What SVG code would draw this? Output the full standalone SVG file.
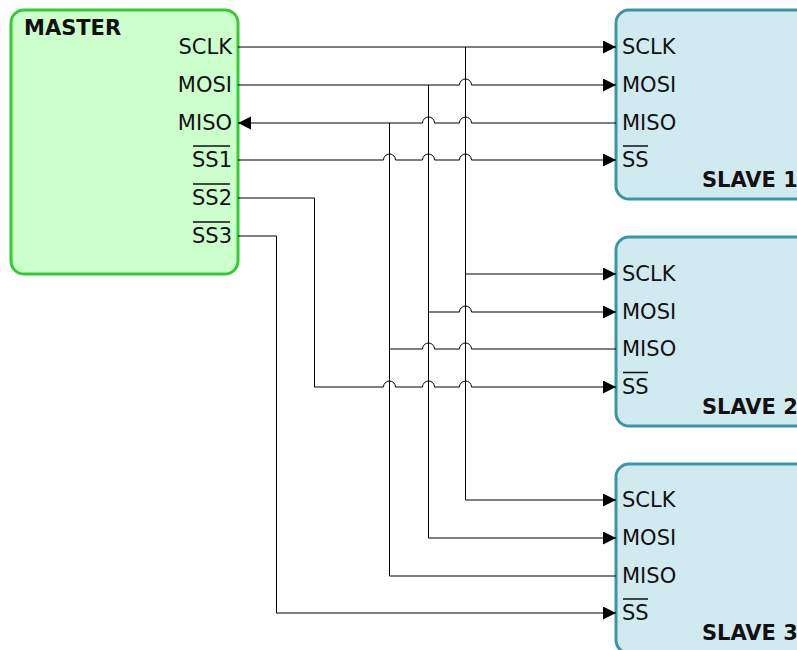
<svg xmlns="http://www.w3.org/2000/svg" width="797" height="650" viewBox="0 0 797 650">
<defs>
<style>
.master{fill:#ccffcc;stroke:#33cc33;stroke-width:3}
.slave{fill:#d1eaf0;stroke:#3b95a9;stroke-width:3}
.lbl{font-family:"DejaVu Sans",sans-serif;font-size:21px;fill:#111}
.ttl{font-family:"DejaVu Sans",sans-serif;font-size:21px;font-weight:bold;fill:#111}
.r{text-anchor:end}
.ov{stroke:#111;stroke-width:1.5}
.w{fill:none;stroke:#000;stroke-width:1}
</style>
<marker id="ah" markerUnits="userSpaceOnUse" markerWidth="14" markerHeight="14" refX="13" refY="6.5" orient="auto">
<path d="M0,0 L13,6.5 L0,13 Z" fill="#000"/>
</marker>
</defs>
<g id="master">
<rect class="master" x="11" y="10" width="227" height="264" rx="13"/>
<text class="ttl" x="24" y="35">MASTER</text>
<text class="lbl r" x="232" y="54">SCLK</text>
<text class="lbl r" x="232" y="92">MOSI</text>
<text class="lbl r" x="232" y="130">MISO</text>
<text class="lbl r" x="232" y="167">SS1</text>
<text class="lbl r" x="232" y="205">SS2</text>
<text class="lbl r" x="232" y="243">SS3</text>
<line class="ov" x1="193" y1="146" x2="230" y2="146"/>
<line class="ov" x1="193" y1="184" x2="230" y2="184"/>
<line class="ov" x1="193" y1="222" x2="230" y2="222"/>
</g>
<g id="slave1">
<rect class="slave" x="616" y="10" width="200" height="189" rx="13"/>
<text class="lbl" x="622" y="54">SCLK</text>
<text class="lbl" x="622" y="92">MOSI</text>
<text class="lbl" x="622" y="130">MISO</text>
<text class="lbl" x="622" y="167">SS</text>
<line class="ov" x1="623" y1="146" x2="648" y2="146"/>
<text class="ttl" x="702" y="187">SLAVE 1</text>
</g>
<g id="slave2">
<rect class="slave" x="616" y="237" width="200" height="189" rx="13"/>
<text class="lbl" x="622" y="281">SCLK</text>
<text class="lbl" x="622" y="319">MOSI</text>
<text class="lbl" x="622" y="356">MISO</text>
<text class="lbl" x="622" y="394">SS</text>
<line class="ov" x1="623" y1="372.5" x2="648" y2="372.5"/>
<text class="ttl" x="702" y="414">SLAVE 2</text>
</g>
<g id="slave3">
<rect class="slave" x="616" y="464" width="200" height="189" rx="13"/>
<text class="lbl" x="622" y="507">SCLK</text>
<text class="lbl" x="622" y="545">MOSI</text>
<text class="lbl" x="622" y="583">MISO</text>
<text class="lbl" x="622" y="620">SS</text>
<line class="ov" x1="623" y1="599" x2="648" y2="599"/>
<text class="ttl" x="702" y="640">SLAVE 3</text>
</g>
<g id="connectors">
<path class="w" d="M238,47 H616" marker-end="url(#ah)"/>
<path class="w" d="M465.5,47 V500 H616" marker-end="url(#ah)"/>
<path class="w" d="M465.5,274 H616" marker-end="url(#ah)"/>
<path class="w" d="M238,85 H459.5 A6,6 0 0 1 471.5,85 H616" marker-end="url(#ah)"/>
<path class="w" d="M428.5,85 V538 H616" marker-end="url(#ah)"/>
<path class="w" d="M428.5,312 H459.5 A6,6 0 0 1 471.5,312 H616" marker-end="url(#ah)"/>
<path class="w" d="M616,123 H471.5 A6,6 0 0 0 459.5,123 H434.5 A6,6 0 0 0 422.5,123 H238" marker-end="url(#ah)"/>
<path class="w" d="M389.5,123 V576 H616"/>
<path class="w" d="M389.5,349 H422.5 A6,6 0 0 1 434.5,349 H459.5 A6,6 0 0 1 471.5,349 H616"/>
<path class="w" d="M238,160 H383.5 A6,6 0 0 1 395.5,160 H422.5 A6,6 0 0 1 434.5,160 H459.5 A6,6 0 0 1 471.5,160 H616" marker-end="url(#ah)"/>
<path class="w" d="M238,198 H314.5 V387 H383.5 A6,6 0 0 1 395.5,387 H422.5 A6,6 0 0 1 434.5,387 H459.5 A6,6 0 0 1 471.5,387 H616" marker-end="url(#ah)"/>
<path class="w" d="M238,236 H276.5 V613 H616" marker-end="url(#ah)"/>
</g>
</svg>
